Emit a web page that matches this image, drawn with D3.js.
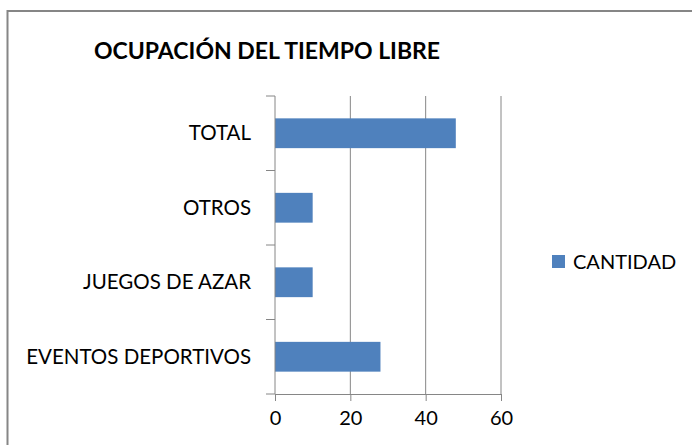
<!DOCTYPE html>
<html>
<head>
<meta charset="utf-8">
<script src="https://cdn.jsdelivr.net/npm/d3@7"></script>
<style>
  body { margin: 0; background: #fff; }
  svg { display: block; font-family: Lato, "Noto Sans", sans-serif; }
</style>
</head>
<body>
<script>
// datos del grafico
var categorias = ["TOTAL", "OTROS", "JUEGOS DE AZAR", "EVENTOS DEPORTIVOS"];
var cantidad = [48, 10, 10, 28];
var ticksX = [0, 20, 40, 60];
var titulo = "OCUPACIÓN DEL TIEMPO LIBRE";
var serie = "CANTIDAD";

var width = 692, height = 445;
var plot = {left: 275, right: 501, top: 96, bottom: 394};

var svg = d3.select("body").append("svg")
  .attr("width", width)
  .attr("height", height);

// marco del grafico (se sale por la derecha y abajo)
svg.append("rect")
  .attr("x", 7.5).attr("y", 11)
  .attr("width", 720).attr("height", 460)
  .attr("fill", "white")
  .attr("stroke", "#868686")
  .attr("stroke-width", 2);

svg.append("text")
  .attr("x", 267).attr("y", 59)
  .attr("text-anchor", "middle")
  .style("font-size", "23px")
  .style("font-weight", "bold")
  .attr("fill", "#000")
  .text(titulo);

var x = d3.scaleLinear().domain([0, 60]).range([plot.left, plot.right]);
var y = d3.scaleBand().domain(categorias).range([plot.top, plot.bottom]).paddingInner(0.6).paddingOuter(0.3);
var yb = d3.scaleBand().domain(categorias).range([plot.top, plot.bottom]);

// lineas de division
svg.append("g").selectAll("line")
  .data(ticksX.slice(1))
  .enter().append("line")
  .attr("x1", d => x(d)).attr("x2", d => x(d))
  .attr("y1", plot.top).attr("y2", plot.bottom)
  .attr("stroke", "#868686").attr("stroke-width", 1);

// eje x
var ejeX = svg.append("g")
  .attr("transform", `translate(0, ${plot.bottom})`)
  .call(d3.axisBottom(x).tickValues(ticksX).tickSize(7).tickPadding(10));
ejeX.select(".domain").attr("stroke", "#868686");
ejeX.selectAll(".tick line").attr("stroke", "#868686");
ejeX.selectAll("text").style("font-size", "20px").style("font-family", "Lato, sans-serif").attr("fill", "#000");

// barras
svg.append("g").selectAll("rect")
  .data(categorias)
  .enter().append("rect")
  .attr("x", x(0))
  .attr("y", d => y(d))
  .attr("width", (d, i) => x(cantidad[i]) - x(0))
  .attr("height", y.bandwidth())
  .attr("fill", "#4F81BD");

// eje y
var ejeY = svg.append("g").attr("transform", `translate(${plot.left}, 0)`);
ejeY.append("line")
  .attr("x1", 0).attr("x2", 0)
  .attr("y1", plot.top).attr("y2", plot.bottom)
  .attr("stroke", "#868686");
var bordes = categorias.map(c => yb(c)).concat([plot.bottom]);
ejeY.selectAll(".marca")
  .data(bordes)
  .enter().append("line")
  .attr("class", "marca")
  .attr("x1", -9).attr("x2", 0)
  .attr("y1", d => d).attr("y2", d => d)
  .attr("stroke", "#868686");
ejeY.selectAll(".etiq")
  .data(categorias)
  .enter().append("text")
  .attr("class", "etiq")
  .attr("x", -24)
  .attr("y", d => yb(d) + yb.bandwidth() / 2)
  .attr("dy", "0.35em")
  .attr("text-anchor", "end")
  .style("font-size", "20.5px")
  .attr("fill", "#000")
  .text(d => d);

// leyenda
var ley = svg.append("g").attr("transform", "translate(552, 255)");
ley.append("rect").attr("width", 13).attr("height", 13).attr("fill", "#4F81BD");
ley.append("text")
  .attr("x", 21).attr("y", 6.5).attr("dy", "0.35em")
  .style("font-size", "20px")
  .attr("fill", "#000")
  .text(serie);
</script>
</body>
</html>
